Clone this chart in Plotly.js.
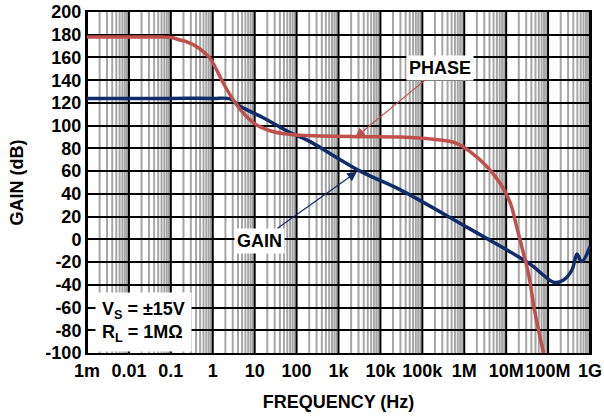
<!DOCTYPE html>
<html>
<head>
<meta charset="utf-8">
<script src="https://cdn.plot.ly/plotly-3.0.1.min.js"></script>
<style>html,body{margin:0;padding:0;background:#fff;}#chart{width:604px;height:416px;}</style>
</head>
<body>
<div id="chart"></div>
<script>
// ---- data ----
const phaseFreq = [1e-3, 0.01, 0.05, 0.1, 0.166, 0.25, 0.415, 0.6, 0.86, 1.24, 1.79, 3.1, 5.4, 11.2, 28, 100, 360, 2750, 30000, 180000, 660000, 1.38e6, 3.5e6, 7.2e6, 12.6e6, 17.8e6, 25.7e6, 34e6, 49e6, 78e6];
const phaseDeg  = [178, 178, 178, 177.5, 175.4, 173.5, 169.5, 165, 159.3, 149, 137.3, 122.6, 110.9, 100.6, 94.7, 91.8, 91, 90.3, 90, 88, 84.5, 77.1, 63.9, 49.3, 31.8, 11.2, -12, -30, -65, -100];

const gainFreq = [1e-3, 0.1, 1, 2.6, 4.5, 16, 70, 175, 3300, 30000, 1e6, 1e7, 21e6, 45e6, 80e6, 135e6, 235e6, 370e6, 490e6, 630e6, 1e9];
const gainDb   = [124, 124, 124, 123.5, 117, 107, 94, 87.5, 60, 43.5, 12, -9, -16, -24, -32, -37.7, -35.7, -27, -13, -19.6, -6.4];

const tickVals  = [1e-3, 1e-2, 1e-1, 1, 10, 100, 1e3, 1e4, 1e5, 1e6, 1e7, 1e8, 1e9];
const tickText  = ['1m', '0.01', '0.1', '1', '10', '100', '1k', '10k', '100k', '1M', '10M', '100M', '1G'];
const yTickVals = [-100, -80, -60, -40, -20, 0, 20, 40, 60, 80, 100, 120, 140, 160, 180, 200];
const yTickText = ['-100', '-80', '-60', '-40', '-20', '0', '20', '40', '60', '80', '100', '120', '140', '160', '180', '200'];

const phaseArrowFreq = 2500, phaseArrowDeg = 89.5;
const gainArrowFreq = 2750, gainArrowDb = 59.5;

// ---- styles ----
const RED = '#c0504d', NAVY = '#102c69', GRAY = '#a6a6a6';
const FONT = {family: 'Liberation Sans, Arial, sans-serif', size: 18, color: '#000', weight: 'bold'};

// grid shapes (minor grey then decade black)
const shapes = [];
for (let d = -3; d < 9; d++) {
  for (let k = 2; k <= 9; k++) {
    shapes.push({type: 'line', xref: 'x', yref: 'paper', x0: k * Math.pow(10, d), x1: k * Math.pow(10, d), y0: 0, y1: 1, layer: 'below', line: {color: GRAY, width: 2}});
  }
}
tickVals.forEach(v => shapes.push({type: 'line', xref: 'x', yref: 'paper', x0: v, x1: v, y0: 0, y1: 1, layer: 'below', line: {color: '#000', width: 2}}));

const traces = [
  {x: gainFreq, y: gainDb, type: 'scatter', mode: 'lines', line: {color: NAVY, width: 3.5, shape: 'spline', smoothing: 1}, hoverinfo: 'skip'},
  {x: phaseFreq, y: phaseDeg, type: 'scatter', mode: 'lines', line: {color: RED, width: 3.5, shape: 'spline', smoothing: 1}, hoverinfo: 'skip'}
];

const layout = {
  width: 604, height: 416,
  margin: {l: 87, r: 14, t: 12, b: 63},
  paper_bgcolor: '#fff', plot_bgcolor: '#fff',
  showlegend: false,
  font: FONT,
  xaxis: {
    type: 'log', range: [-3, 9], tickvals: tickVals, ticktext: tickText, tickangle: 0,
    showgrid: false, zeroline: false, ticks: '', showline: true, mirror: true, linecolor: '#000', linewidth: 2,
    tickfont: FONT,
    title: {text: 'FREQUENCY (Hz)', font: FONT, standoff: 16}
  },
  yaxis: {
    range: [-100, 200], tickvals: yTickVals, ticktext: yTickText,
    showgrid: true, gridcolor: '#000', gridwidth: 2, zeroline: false, ticks: '',
    showline: true, mirror: true, linecolor: '#000', linewidth: 2,
    tickfont: FONT,
    title: {text: 'GAIN (dB)', font: FONT, standoff: 17}
  },
  shapes: shapes,
  annotations: [
    {x: Math.log10(phaseArrowFreq), y: phaseArrowDeg, xref: 'x', yref: 'y', text: 'PHASE', font: FONT,
     showarrow: true, ax: 85, ay: -70, arrowcolor: RED, arrowhead: 2, arrowsize: 1.6, arrowwidth: 1.2,
     bgcolor: '#fff', borderpad: 2},
    {x: Math.log10(gainArrowFreq), y: gainArrowDb, xref: 'x', yref: 'y', text: 'GAIN', font: FONT,
     showarrow: true, ax: -97, ay: 69, arrowcolor: NAVY, arrowhead: 2, arrowsize: 1.6, arrowwidth: 1.2,
     bgcolor: '#fff', borderpad: 2},
    {x: 0.112, y: 0.092, xref: 'paper', yref: 'paper', xanchor: 'center', yanchor: 'middle', align: 'left',
     text: 'V<sub>S</sub> = ±15V<br>R<sub>L</sub> = 1MΩ', font: FONT, showarrow: false, bgcolor: '#fff', borderpad: 6}
  ]
};

Plotly.newPlot('chart', traces, layout, {staticPlot: true, displayModeBar: false});
</script>
</body>
</html>
